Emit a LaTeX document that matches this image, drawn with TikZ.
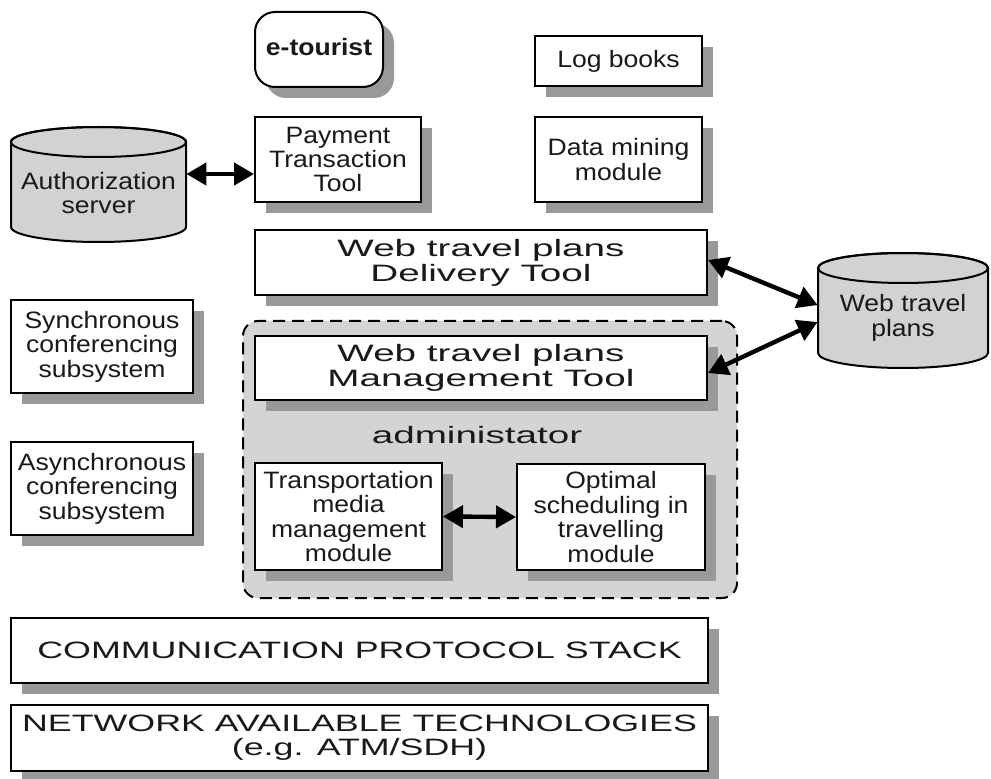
\documentclass[tikz,border=0pt]{standalone}
\usepackage{fontspec}
\setmainfont{Liberation Sans}
\newfontfamily\basefont{Liberation Sans}[FakeStretch=1.12]
\newfontfamily\widefont{Liberation Sans}[FakeStretch=1.63]
\newfontfamily\bandfont{Liberation Sans}[FakeStretch=1.51]
\usetikzlibrary{arrows.meta,shadows}

\definecolor{shadowgray}{HTML}{999999}
\definecolor{panelgray}{HTML}{D4D4D4}
\definecolor{drumgray}{HTML}{D2D2D2}

\tikzset{
  box/.style={draw=black, line width=1pt, fill=white, inner sep=0pt,
    align=center, text=black!90,
    font=\basefont\fontsize{11.85}{12.2}\selectfont,
    drop shadow={shadow xshift=5.5pt, shadow yshift=-5.5pt,
      fill=shadowgray, opacity=1}},
  widebox/.style={box, font=\widefont\fontsize{11.85}{12.5}\selectfont},
  bandbox/.style={box, font=\bandfont\fontsize{11.85}{12}\selectfont},
  drumtext/.style={inner sep=0pt, align=center, text=black!90,
    font=\basefont\fontsize{11.85}{12.2}\selectfont},
  drum/.style={draw=black, line width=1pt, fill=drumgray},
  dblarrow/.style={line width=2.2pt,
    {Triangle[length=10pt,width=11pt]}-{Triangle[length=10pt,width=11pt]}},
}

\begin{document}
\begin{tikzpicture}[x=0.5pt, y=0.5pt]
\useasboundingbox (0,0) rectangle (991,778);

% administrator panel
\node[draw=black, line width=1pt, dash pattern=on 6pt off 3.5pt,
      fill=panelgray, rounded corners=7.5pt, inner sep=0pt,
      minimum width=247pt, minimum height=138.5pt] (panel) at (490,318.5) {};

% user entry
\node[box, rounded corners=10pt, minimum width=64pt, minimum height=37.5pt,
      font=\basefont\bfseries\fontsize{11.85}{12.2}\selectfont]
      (etour) at (319,728.5) {\raisebox{2.5pt}{e-tourist}};

% upper tools
\node[box, minimum width=83pt, minimum height=42.5pt] (pay) at (338,618.5)
  {Payment\\Transaction\\Tool};
\node[box, minimum width=83.5pt, minimum height=25pt] (log) at (618.5,717)
  {Log books};
\node[box, minimum width=83.5pt, minimum height=42.5pt] (dmm) at (618.5,618.5)
  {Data mining\\module};
\node[widebox, minimum width=226pt, minimum height=32.5pt] (deliv) at (481,515.5)
  {Web travel plans\\Delivery Tool};
\node[widebox, minimum width=226pt, minimum height=32pt] (mgmt) at (481,410)
  {Web travel plans\\Management Tool};

\node[font=\widefont\fontsize{11.85}{12.5}\selectfont, text=black!90,
      inner sep=0pt] (admin) at (477,343) {administator};

\node[box, minimum width=93.5pt, minimum height=53.5pt] (trans) at (348.5,261.5)
  {Transportation\\media\\management\\module};
\node[box, minimum width=94pt, minimum height=53pt] (opt) at (611,261)
  {Optimal\\scheduling in\\travelling\\module};

% conferencing subsystems
\node[box, minimum width=91pt, minimum height=46.5pt] (sync) at (102,431.5)
  {Synchronous\\conferencing\\subsystem};
\node[box, minimum width=91pt, minimum height=46.5pt] (async) at (102,289.5)
  {Asynchronous\\conferencing\\subsystem};

% lower layers
\node[bandbox, minimum width=348.5pt, minimum height=32.5pt] (comm) at (359.5,127.5)
  {COMMUNICATION PROTOCOL STACK};
\node[bandbox, minimum width=348.5pt, minimum height=33pt] (net) at (359.5,40)
  {NETWORK AVAILABLE TECHNOLOGIES\\(e.g. ATM/SDH)};

% authorization server drum
\path[drum] (11,636) -- (11,551) arc[start angle=180, end angle=360,
  x radius=87.5, y radius=15] -- (186,636) arc[start angle=0, end angle=180,
  x radius=87.5, y radius=15] -- cycle;
\draw[line width=1pt] (98.5,636) ellipse[x radius=87.5, y radius=15];
\node[drumtext, minimum width=87.5pt, minimum height=30pt] (auth) at (98.5,585)
  {Authorization\\server};

% web travel plans drum
\path[drum] (818,510) -- (818,425) arc[start angle=180, end angle=360,
  x radius=85, y radius=15] -- (988,510) arc[start angle=0, end angle=180,
  x radius=85, y radius=15] -- cycle;
\draw[line width=1pt] (903,510) ellipse[x radius=85, y radius=15];
\node[drumtext, minimum width=85pt, minimum height=35pt] (wtp) at (903,460)
  {Web travel\\plans};

% connectors
\draw[dblarrow] ([yshift=9.5pt]auth.east) -- ([yshift=-7.25pt]pay.west);
\draw[dblarrow] ([yshift=1.25pt]deliv.east) -- ([yshift=6.5pt]wtp.west);
\draw[dblarrow] ([yshift=-2.5pt]mgmt.east) -- ([yshift=-2pt]wtp.west);
\draw[dblarrow] (trans.east) -- (opt.west);
\end{tikzpicture}
\end{document}
